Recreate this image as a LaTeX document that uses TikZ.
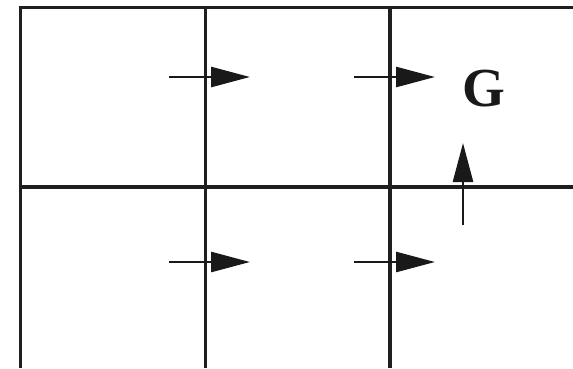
\documentclass[tikz,border=0pt]{standalone}
\usepackage{fontspec}
\setmainfont{Liberation Serif}
\usetikzlibrary{arrows.meta}
\begin{document}
\begin{tikzpicture}[x=1pt,y=-1pt,
  gridline/.style={line width=3.2pt,draw={black!88}},
  move/.style={line width=2.6pt,draw={black!90},-{Triangle[length=39pt,width=20pt]}}]
\useasboundingbox (0,0) rectangle (573,368);
% grid
\draw[gridline] (18.9,7.5) -- (573,7.5);
\draw[gridline] (18.9,187) -- (573,187);
\draw[gridline] (20.5,7.5) -- (20.5,368);
\draw[gridline] (205.5,7.5) -- (205.5,368);
\draw[gridline] (390,7.5) -- (390,368);
% arrow coordinates
\coordinate (a1) at (169,77);  \coordinate (b1) at (250,77);
\coordinate (a2) at (354,77);  \coordinate (b2) at (435,77);
\coordinate (a3) at (169,262); \coordinate (b3) at (250,262);
\coordinate (a4) at (354,262); \coordinate (b4) at (435,262);
\coordinate (a5) at (463,225); \coordinate (b5) at (463,143);
\draw[move] (a1) -- (b1);
\draw[move] (a2) -- (b2);
\draw[move] (a3) -- (b3);
\draw[move] (a4) -- (b4);
\draw[move] (a5) -- (b5);
\node[inner sep=0pt,text={black!90}] (G) at (484,88.5) {\fontsize{55}{55}\selectfont\bfseries G};
\end{tikzpicture}
\end{document}
